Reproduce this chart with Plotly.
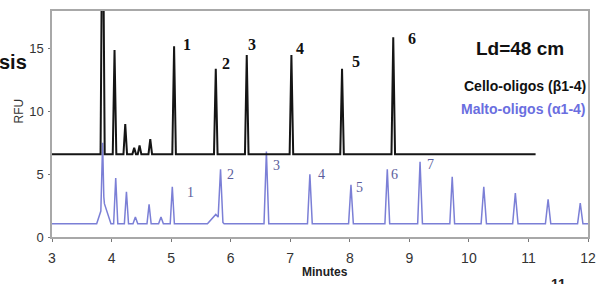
import plotly.graph_objects as go

# ---- data ----
x_ticks = [3, 4, 5, 6, 7, 8, 9, 10, 11, 12]
y_ticks = [0, 5, 10, 15]

# Cello-oligos (black trace)
cello_baseline = 6.6
cello_start, cello_end = 3.0, 11.12
cello_peak_t = [3.85, 4.05, 4.23, 4.38, 4.47, 4.65, 5.05, 5.75, 6.27, 7.02, 7.87, 8.73]
cello_peak_h = [30.0, 14.9, 9.0, 7.1, 7.3, 7.8, 15.2, 13.4, 14.5, 14.5, 13.4, 15.9]
cello_peak_w = [0.035, 0.03, 0.03, 0.03, 0.03, 0.03, 0.03, 0.03, 0.03, 0.03, 0.03, 0.03]
cello_labels = ["1", "2", "3", "4", "5", "6"]
cello_label_t = [5.27, 5.92, 6.36, 7.17, 8.1, 9.05]
cello_label_v = [15.3, 13.8, 15.3, 15.0, 14.0, 15.8]

# Malto-oligos (blue trace)
malto_baseline = 1.05
malto_start, malto_end = 3.0, 12.0
malto_peak_t = [3.85, 3.87, 4.07, 4.25, 4.4, 4.63, 4.83, 5.02, 5.75, 5.83, 6.6, 7.33, 8.02, 8.63, 9.18, 9.72, 10.25, 10.78, 11.33, 11.87]
malto_peak_h = [7.5, 2.8, 4.7, 3.6, 1.6, 2.6, 1.6, 4.0, 1.8, 5.4, 6.8, 5.0, 4.15, 5.4, 6.0, 4.8, 4.0, 3.5, 3.0, 2.7]
malto_peak_w = [0.03, 0.12, 0.035, 0.035, 0.04, 0.035, 0.04, 0.035, 0.14, 0.04, 0.04, 0.04, 0.04, 0.04, 0.04, 0.04, 0.045, 0.045, 0.045, 0.045]
malto_labels = ["1", "2", "3", "4", "5", "6", "7"]
malto_label_t = [5.32, 6.0, 6.77, 7.52, 8.17, 8.75, 9.35]
malto_label_v = [3.55, 4.97, 5.68, 4.97, 3.95, 4.97, 5.76]


def build_trace(start, end, base, pt, ph, pw):
    xs = {start, end}
    for t, w in zip(pt, pw):
        for x in (t - w, t, t + w):
            if start <= x <= end:
                xs.add(round(x, 4))
    xs = sorted(xs)
    ys = []
    for x in xs:
        v = base
        for t, h, w in zip(pt, ph, pw):
            f = 1 - abs(x - t) / w
            if f > 0:
                v = max(v, base + (h - base) * f)
        ys.append(v)
    return xs, ys


cx, cy = build_trace(cello_start, cello_end, cello_baseline, cello_peak_t, cello_peak_h, cello_peak_w)
mx, my = build_trace(malto_start, malto_end, malto_baseline, malto_peak_t, malto_peak_h, malto_peak_w)

BLUE = "#7b7fd6"
fig = go.Figure()
fig.add_trace(go.Scatter(x=mx, y=my, mode="lines", line=dict(color=BLUE, width=1.5), hoverinfo="skip"))
fig.add_trace(go.Scatter(x=cx, y=cy, mode="lines", line=dict(color="#151515", width=2), hoverinfo="skip"))

ann = []
for s, t, v in zip(cello_labels, cello_label_t, cello_label_v):
    ann.append(dict(x=t, y=v, text="<b>" + s + "</b>", showarrow=False, xref="x", yref="y",
                    font=dict(family="Liberation Serif", size=16, color="#111")))
for s, t, v in zip(malto_labels, malto_label_t, malto_label_v):
    ann.append(dict(x=t, y=v, text=s, showarrow=False, xref="x", yref="y",
                    font=dict(family="Liberation Serif", size=14, color="#5c5e9c")))

ann += [
    dict(x=11.63, y=15.0, xref="x", yref="y", text="<b>Ld=48 cm</b>", xanchor="right", showarrow=False,
         font=dict(family="Liberation Sans", size=19, color="#111")),
    dict(x=12.0, y=12.0, xref="x", yref="y", text="<b>Cello-oligos (β1-4)</b>", xanchor="right", showarrow=False,
         font=dict(family="Liberation Sans", size=14, color="#111")),
    dict(x=12.0, y=10.2, xref="x", yref="y", text="<b>Malto-oligos (α1-4)</b>", xanchor="right", showarrow=False,
         font=dict(family="Liberation Sans", size=14, color="#6a6ee0")),
    dict(x=-0.072, y=0.776, xref="paper", yref="paper", text="<b>sis</b>", showarrow=False,
         font=dict(family="Liberation Sans", size=20, color="#111")),
    dict(x=-0.061, y=0.557, xref="paper", yref="paper", text="RFU", textangle=-90, showarrow=False,
         font=dict(family="Liberation Sans", size=12, color="#333")),
    dict(x=0.51, y=-0.154, xref="paper", yref="paper", text="<b>Minutes</b>", showarrow=False,
         font=dict(family="Liberation Sans", size=12, color="#222")),
    dict(x=0.945, y=-0.21, xref="paper", yref="paper", text="<b>11</b>", showarrow=False,
         font=dict(family="Liberation Sans", size=14, color="#222")),
]
for a in ann:
    if "xanchor" not in a:
        a["xanchor"] = "center"
    a["yanchor"] = "middle"

fig.update_layout(
    width=605, height=284,
    margin=dict(l=52, r=12, t=9, b=47),
    paper_bgcolor="white", plot_bgcolor="white",
    showlegend=False,
    annotations=ann,
    xaxis=dict(range=[3, 12], tickvals=x_ticks, ticktext=[str(v) for v in x_ticks],
               ticks="outside", ticklen=3, tickcolor="#777",
               showline=True, linecolor="#a8a8a8", linewidth=1.5, mirror=True,
               showgrid=False, zeroline=False, ticklabelstandoff=4, ticklabeloverflow="allow",
               tickfont=dict(family="Liberation Sans", size=14, color="#333")),
    yaxis=dict(range=[0, 18], tickvals=y_ticks, ticktext=[str(v) for v in y_ticks],
               ticks="outside", ticklen=2, tickcolor="#777",
               showline=True, linecolor="#a8a8a8", linewidth=1.5, mirror=True,
               showgrid=False, zeroline=False, ticklabelstandoff=2,
               tickfont=dict(family="Liberation Sans", size=13, color="#333")),
)

fig.write_html("out.html", config={"displayModeBar": False},
               post_script="document.body.style.margin='0px';")
